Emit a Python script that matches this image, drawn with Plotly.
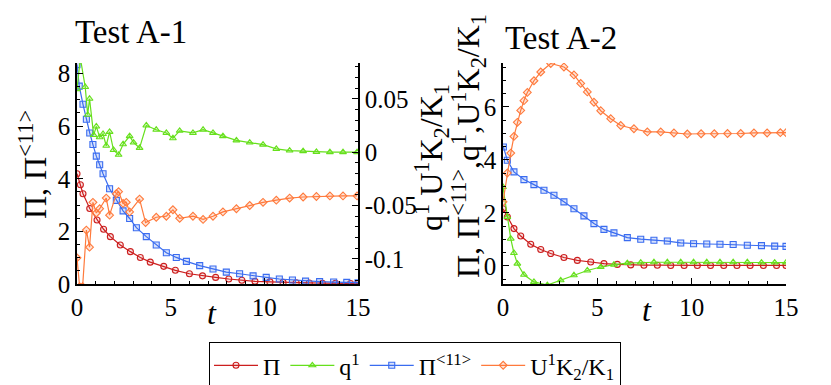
import plotly.graph_objects as go

# ---- Test A-1 (left panel) ----
t_pi_a1 = [0, 0.18, 0.32, 0.68, 1.07, 1.42, 1.78, 2.31, 2.85, 3.38, 3.91, 4.63, 5.25,
           6.0, 6.7, 7.4, 8.1, 8.8, 9.5, 10.3, 11.0, 11.7, 12.4, 13.1, 13.8, 14.6, 15]
pi_a1 = [4.19, 3.77, 3.43, 2.87, 2.43, 2.08, 1.80, 1.48, 1.23, 1.01, 0.83, 0.67, 0.52,
         0.39, 0.31, 0.25, 0.19, 0.14, 0.10, 0.08, 0.06, 0.05, 0.04, 0.03, 0.03, 0.02, 0.02]

t_pi11_a1 = [0, 0.12, 0.32, 0.5, 0.68, 0.85, 1.03, 1.21, 1.39, 1.74, 2.10, 2.46, 2.81, 3.17,
             3.70, 4.23, 4.77, 5.30, 5.84, 6.55, 7.26, 7.97, 8.68, 9.40, 10.1, 10.8, 11.5,
             12.2, 12.95, 13.7, 14.4, 15]
pi11_a1 = [8.34, 7.52, 6.83, 6.26, 5.74, 5.30, 4.86, 4.53, 4.19, 3.62, 3.18, 2.78, 2.49, 2.14,
           1.80, 1.48, 1.19, 1.01, 0.86, 0.70, 0.57, 0.45, 0.39, 0.31, 0.25, 0.19, 0.15,
           0.11, 0.09, 0.075, 0.06, 0.05]

t_q_a1 = [0, 0.18, 0.44, 0.57, 0.67, 0.89, 1.03, 1.21, 1.39, 1.56, 1.74, 1.95, 2.22, 2.46,
          2.81, 3.02, 3.34, 3.70, 4.23, 4.77, 5.12, 5.48, 6.19, 6.73, 7.26, 7.79, 8.51,
          9.22, 9.93, 10.64, 11.35, 12.07, 12.78, 13.5, 14.2, 14.95]
q_a1 = [0.059, 0.088, 0.061, 0.035, 0.050, 0.016, 0.024, 0.014, 0.017, 0.006, 0.019, 0.002,
        -0.0025, 0.0074, 0.015, 0.009, 0.004, 0.025, 0.021, 0.018, 0.013, 0.020, 0.018,
        0.021, 0.018, 0.015, 0.011, 0.009, 0.007, 0.003, 0.0015, 0.001, 0.0003, 0, 0, 0]

t_u_a1 = [0, 0.14, 0.3, 0.5, 0.67, 0.85, 1.03, 1.21, 1.56, 1.74, 2.10, 2.22, 2.46, 2.63,
          2.81, 3.34, 3.66, 4.23, 4.77, 5.12, 5.48, 6.19, 6.73, 7.26, 7.79, 8.51, 9.22,
          9.93, 10.64, 11.35, 12.07, 12.78, 13.5, 14.2, 14.95]
u_a1 = [-0.099, -0.126, -0.126, -0.073, -0.089, -0.047, -0.057, -0.053, -0.043, -0.059,
        -0.039, -0.037, -0.048, -0.047, -0.056, -0.044, -0.066, -0.061, -0.060, -0.054,
        -0.062, -0.060, -0.063, -0.060, -0.056, -0.053, -0.050, -0.047, -0.045, -0.043,
        -0.042, -0.0415, -0.041, -0.041, -0.041]

# ---- Test A-2 (right panel) ----
t_pi_a2 = [0, 0.23, 0.58, 0.94, 1.47, 2.0, 2.53, 3.23, 3.94, 4.65, 5.35, 6.06, 6.77, 7.47,
           8.18, 8.89, 9.6, 10.3, 11.0, 11.7, 12.4, 13.1, 13.8, 14.5, 15]
pi_a2 = [2.16, 1.85, 1.41, 1.13, 0.82, 0.62, 0.47, 0.32, 0.21, 0.15, 0.09, 0.06, 0.04, 0.03,
         0.03, 0.02, 0.02, 0.02, 0.02, 0.02, 0.02, 0.02, 0.02, 0.02, 0.02]

t_q_a2 = [0, 0.23, 0.41, 0.58, 0.76, 1.11, 1.64, 2.35, 3.06, 3.76, 4.47, 5.18, 5.88, 6.59,
          7.3, 8.0, 8.71, 9.42, 10.1, 10.8, 11.5, 12.2, 12.95, 13.7, 14.4, 15]
q_a2 = [2.98, 1.85, 1.03, 0.49, 0.09, -0.33, -0.60, -0.72, -0.54, -0.35, -0.17, -0.04, 0.05,
        0.11, 0.13, 0.14, 0.14, 0.14, 0.14, 0.14, 0.14, 0.14, 0.14, 0.13, 0.13, 0.13]

t_pi11_a2 = [0.02, 0.23, 0.58, 1.11, 1.64, 2.17, 2.70, 3.23, 3.76, 4.29, 4.82, 5.35, 5.88,
             6.59, 7.30, 8.0, 8.71, 9.42, 10.1, 10.8, 11.5, 12.2, 12.95, 13.7, 14.4, 15]
pi11_a2 = [4.49, 3.99, 3.55, 3.26, 3.07, 2.86, 2.67, 2.42, 2.16, 1.89, 1.60, 1.38, 1.25,
           1.07, 1.01, 0.97, 0.94, 0.87, 0.84, 0.83, 0.82, 0.81, 0.78, 0.77, 0.75, 0.74]

t_u_a2 = [0, 0.23, 0.41, 0.58, 0.76, 0.94, 1.11, 1.29, 1.64, 2.0, 2.53, 3.23, 3.76, 4.12,
          4.47, 4.82, 5.18, 5.71, 6.24, 6.94, 7.65, 8.36, 9.06, 9.77, 10.5, 11.2, 11.9,
          12.6, 13.3, 14.0, 14.7, 15]
u_a2 = [2.42, 3.51, 4.26, 4.89, 5.42, 5.87, 6.24, 6.55, 6.99, 7.32, 7.64, 7.51, 7.21, 6.89,
        6.57, 6.18, 5.86, 5.56, 5.30, 5.18, 5.06, 5.06, 5.02, 4.98, 4.99, 4.99, 5.0,
        5.0, 5.02, 5.02, 5.03, 5.03]

NAMES = ["Π", "q<sup>1</sup>", "Π<sup>&lt;11&gt;</sup>", "U<sup>1</sup>K<sub>2</sub>/K<sub>1</sub>"]
COLORS = ["#cc1f1f", "#66e01c", "#3a6cf0", "#ff7a3c"]
FILLS = ["rgba(204,31,31,0.12)", "rgba(102,224,28,0.25)", "rgba(58,108,240,0.2)", "rgba(255,122,60,0.2)"]
SYMBOLS = ["circle", "triangle-up", "square", "diamond"]
FONT = "Liberation Serif"

W, H = 831, 385
OFF = 8  # page body margin


def px(x):
    return (x - OFF) / W


def py(y):
    return 1 - (y - OFF) / H


fig = go.Figure()


def add(x, y, i, xa, ya, show):
    fig.add_trace(go.Scatter(
        x=x, y=y, mode="lines+markers", name=NAMES[i], legendgroup=str(i),
        showlegend=show, xaxis=xa, yaxis=ya,
        line=dict(color=COLORS[i], width=1.2),
        marker=dict(symbol=SYMBOLS[i], size=6, color=FILLS[i],
                    line=dict(color=COLORS[i], width=1.1)),
        cliponaxis=True,
    ))


add(t_pi_a1, pi_a1, 0, "x", "y", True)
add(t_q_a1, q_a1, 1, "x", "y2", True)
add(t_pi11_a1, pi11_a1, 2, "x", "y", True)
add(t_u_a1, u_a1, 3, "x", "y2", True)
add(t_pi_a2, pi_a2, 0, "x3", "y3", False)
add(t_q_a2, q_a2, 1, "x3", "y3", False)
add(t_pi11_a2, pi11_a2, 2, "x3", "y3", False)
add(t_u_a2, u_a2, 3, "x3", "y3", False)

ydom = [py(284), py(63)]
tickfont = dict(family=FONT, size=25, color="black")
common = dict(showgrid=False, zeroline=False, showline=True, linecolor="black", linewidth=1.5,
              ticks="inside", ticklen=6, tickcolor="black", tickfont=tickfont)

xcommon = dict(common, range=[0, 15], dtick=5, tick0=0,
               minor=dict(ticks="inside", ticklen=3, dtick=1, tickcolor="black"))

fig.update_layout(
    width=W, height=H,
    margin=dict(l=0, r=0, t=0, b=0, autoexpand=False),
    paper_bgcolor="white", plot_bgcolor="white",
    font=dict(family=FONT, color="black"),
    xaxis=dict(xcommon, domain=[px(77), px(358)], anchor="y"),
    yaxis=dict(common, domain=ydom, range=[0, 8.4], dtick=2, anchor="x",
               minor=dict(ticks="inside", ticklen=3, dtick=0.5, tickcolor="black")),
    yaxis2=dict(common, overlaying="y", side="right", anchor="x", range=[-0.1235, 0.0835],
                tickvals=[-0.1, -0.05, 0, 0.05], ticktext=["-0.1", "-0.05", "0", "0.05"],
                minor=dict(ticks="inside", ticklen=3, dtick=0.01, tickcolor="black")),
    xaxis3=dict(xcommon, domain=[px(503), px(786)], anchor="y3"),
    yaxis3=dict(common, domain=ydom, range=[-0.68, 7.66], dtick=2, anchor="x3",
                minor=dict(ticks="inside", ticklen=3, dtick=0.5, tickcolor="black")),
    legend=dict(orientation="h", x=px(209), xanchor="left", y=py(342), yanchor="top",
                bordercolor="black", borderwidth=1.2, bgcolor="white",
                font=dict(family=FONT, size=24, color="black"),
                itemwidth=44, tracegroupgap=0),
)

ann = [
    dict(text="Test A-1", x=px(73), y=py(32), xanchor="left", yanchor="middle", font_size=33),
    dict(text="Test A-2", x=px(503), y=py(38), xanchor="left", yanchor="middle", font_size=33),
    dict(text="Π, Π<sup>&lt;11&gt;</sup>", x=px(33), y=py(165), textangle=-90,
         xanchor="center", yanchor="middle", font_size=32),
    dict(text="q<sup>1</sup>,U<sup>1</sup>K<sub>2</sub>/K<sub>1</sub>", x=px(431), y=py(158),
         textangle=-90, xanchor="center", yanchor="middle", font_size=32),
    dict(text="Π, Π<sup>&lt;11&gt;</sup>,q<sup>1</sup>,U<sup>1</sup>K<sub>2</sub>/K<sub>1</sub>",
         x=px(468), y=py(146), textangle=-90, xanchor="center", yanchor="middle", font_size=32),
    dict(text="<i>t</i>", x=px(212), y=py(313), xanchor="center", yanchor="middle", font_size=32),
    dict(text="<i>t</i>", x=px(647), y=py(310), xanchor="center", yanchor="middle", font_size=32),
]
for a in ann:
    fig.add_annotation(xref="paper", yref="paper", showarrow=False,
                       font=dict(family=FONT, color="black", size=a.pop("font_size")), **a)

fig.write_html("out.html")
